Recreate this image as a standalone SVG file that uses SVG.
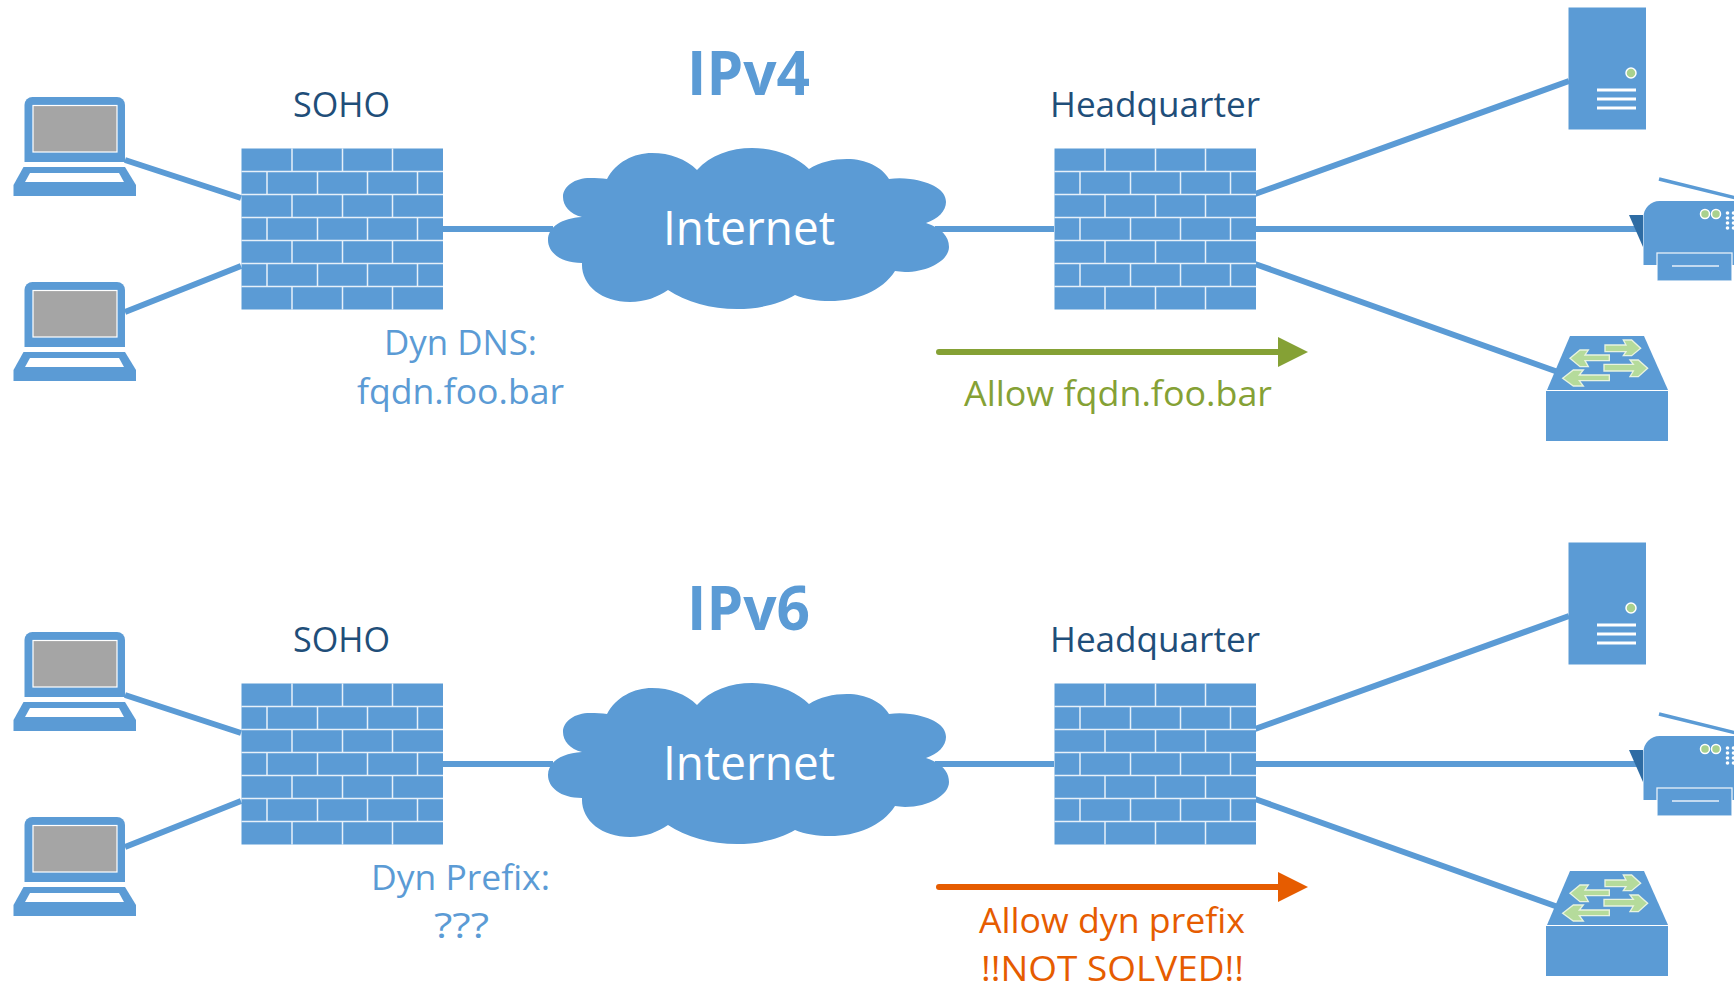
<svg xmlns="http://www.w3.org/2000/svg" width="1734" height="983" viewBox="0 0 1734 983">
<style>
text{font-family:"Open Sans","Noto Sans","Liberation Sans",sans-serif;font-size:35px}
.dark{fill:#1F4E79}.blue{fill:#5B9BD5}.olive{fill:#85A135}.orange{fill:#E65C00}
.title{font-size:61px;font-weight:700;fill:#5B9BD5}
.inet{font-size:48px;fill:#fff}
.fill{fill:#5B9BD5}
.wl{stroke:#fff;stroke-opacity:.85;fill:none;stroke-width:1.5}
.edge{stroke:#5B9BD5;stroke-width:6;fill:none}
.flow-g{stroke:#85A135;stroke-width:6;stroke-linecap:round;fill:none}
.flow-o{stroke:#E65C00;stroke-width:6;stroke-linecap:round;fill:none}
.sw{fill:#B5DB9B;stroke:#E8F3E0;stroke-width:4}
.led{fill:#A9D18E;stroke:#fff;stroke-width:1.500}
</style>
<defs>
<marker id="ah-g" markerUnits="userSpaceOnUse" markerWidth="31" markerHeight="31" refX="0" refY="15" orient="auto"><path d="M0 0L30 15L0 30Z" fill="#85A135"/></marker>
<marker id="ah-o" markerUnits="userSpaceOnUse" markerWidth="31" markerHeight="31" refX="0" refY="15" orient="auto"><path d="M0 0L30 15L0 30Z" fill="#E65C00"/></marker>
<g id="laptop">
<path class="fill" d="M24.500 162V105a8 8 0 0 1 8-8H117a8 8 0 0 1 8 8V162Z"/>
<rect x="33" y="105.500" width="84" height="46.500" fill="#A5A5A5" stroke="#fff" stroke-width="1.200"/>
<path class="fill" d="M23.500 167H125L136 185V196H13.500V185Z"/>
<path fill="#fff" d="M30 173H119L124 182H25Z"/>
</g>
<g id="firewall">
<rect class="fill" x="0" y="0" width="201.500" height="161"/>
<path class="wl" d="M0 23H201.500M0 46H201.500M0 69H201.500M0 92H201.500M0 115H201.500M0 138H201.500M50.500 0V23M101 0V23M151 0V23M25.500 23V46M76 23V46M126 23V46M176 23V46M50.500 46V69M101 46V69M151 46V69M25.500 69V92M76 69V92M126 69V92M176 69V92M50.500 92V115M101 92V115M151 92V115M25.500 115V138M76 115V138M126 115V138M176 115V138M50.500 138V161M101 138V161M151 138V161"/>
</g>
<g id="cloud-shape">
<path class="fill" d="M607 179C616 162 634 153 652 153C670 153 686 159 697 170C710 155 731 148 752 148C775 148 796 156 809 169C820 162 833 159 847 159C866 159 882 167 889 179C896 178 903 178 910 179C932 182 946 190 946 202C946 211 938 219 926 223C941 228 949 236 949 247C949 260 929 272 905 272C901 272 898 271 895 271C882 291 857 301 830 301C817 301 805 299 795 295C780 304 759 309 737 309C711 309 686 302 668 290C658 297 645 302 630 302C601 302 581 285 582 263C560 263 548 252 548 240C548 227 562 218 582 217C570 214 563 206 563 197C563 186 575 178 590 178C596 178 602 178 607 179Z"/>
</g>
<g id="server">
<rect class="fill" x="1568.500" y="7.500" width="77.500" height="122"/>
<circle class="led" cx="1631" cy="73" r="5"/>
<path stroke="#fff" stroke-width="3" fill="none" d="M1597 90H1636M1597 99H1636M1597 108H1636"/>
</g>
<g id="printer">
<path d="M1629 215H1643V247Z" fill="#2E6CA4"/>
<path stroke="#5B9BD5" stroke-width="3.500" fill="none" d="M1659 179L1736 198"/>
<path class="fill" d="M1643.500 265V217a16 16 0 0 1 16-16H1740V265Z"/>
<circle class="led" cx="1705" cy="214" r="4.500"/>
<circle class="led" cx="1716" cy="214" r="4.500"/>
<g fill="#fff"><circle cx="1727.500" cy="213" r="1.800"/><circle cx="1733.500" cy="213" r="1.800"/><circle cx="1727.500" cy="218" r="1.800"/><circle cx="1733.500" cy="218" r="1.800"/><circle cx="1727.500" cy="223" r="1.800"/><circle cx="1733.500" cy="223" r="1.800"/><circle cx="1727.500" cy="228" r="1.800"/><circle cx="1733.500" cy="228" r="1.800"/></g>
<rect class="fill" x="1657" y="253" width="75" height="28" stroke="#fff" stroke-opacity=".85" stroke-width="1.300"/>
<path stroke="#fff" stroke-opacity=".85" stroke-width="1.300" d="M1672 266H1719"/>
</g>
<g id="switch">
<path class="fill" d="M1570 336H1644L1668 390H1547Z"/>
<rect class="fill" x="1546" y="391" width="122" height="50"/>
<g transform="translate(1520 320) scale(.3333)">
<path class="sw" d="M255 75H318L310 60H335L362 85L335 107H310L318 95H255Z"/>
<path class="sw" d="M150 115L180 90H205L195 105H268V122H195L205 140H180Z"/>
<path class="sw" d="M252 133H340L330 120H355L383 145L355 170H330L340 153H252Z"/>
<path class="sw" d="M128 175L160 150H190L178 165H268V182H178L190 198H160Z"/>
</g>
</g>
</defs>
<g id="connectors">
<path class="edge" d="M125 160L241 198M125 312L241 266M443 229H553M935 229H1054M1255 194L1569 81M1255 229H1637M1255 264L1558 372"/>
<path class="edge" d="M125 695L241 733M125 847L241 801M443 764H553M935 764H1054M1255 729L1569 616M1255 764H1637M1255 799L1558 907"/>
<path class="flow-g" d="M939 352H1278" marker-end="url(#ah-g)"/>
<path class="flow-o" d="M939 887H1278" marker-end="url(#ah-o)"/>
</g>
<g id="ipv4-laptop-1"><use href="#laptop"/></g>
<g id="ipv4-laptop-2"><use href="#laptop" y="185"/></g>
<g id="ipv4-soho"><use href="#firewall" x="241.500" y="148.500"/><text class="dark" x="293" y="117" textLength="97" lengthAdjust="spacingAndGlyphs">SOHO</text></g>
<g id="ipv4-cloud"><use href="#cloud-shape"/><text class="inet" x="663" y="244.500" textLength="172" lengthAdjust="spacingAndGlyphs">Internet</text></g>
<g id="ipv4-hq"><use href="#firewall" x="1054.500" y="148.500"/><text class="dark" x="1050" y="117" textLength="210" lengthAdjust="spacingAndGlyphs">Headquarter</text></g>
<g id="ipv4-server"><use href="#server"/></g>
<g id="ipv4-printer"><use href="#printer"/></g>
<g id="ipv4-switch"><use href="#switch"/></g>
<g id="ipv6-laptop-1"><use href="#laptop" y="535"/></g>
<g id="ipv6-laptop-2"><use href="#laptop" y="720"/></g>
<g id="ipv6-soho"><use href="#firewall" x="241.500" y="683.500"/><text class="dark" x="293" y="652" textLength="97" lengthAdjust="spacingAndGlyphs">SOHO</text></g>
<g id="ipv6-cloud"><use href="#cloud-shape" y="535"/><text class="inet" x="663" y="779.500" textLength="172" lengthAdjust="spacingAndGlyphs">Internet</text></g>
<g id="ipv6-hq"><use href="#firewall" x="1054.500" y="683.500"/><text class="dark" x="1050" y="652" textLength="210" lengthAdjust="spacingAndGlyphs">Headquarter</text></g>
<g id="ipv6-server"><use href="#server" y="535"/></g>
<g id="ipv6-printer"><use href="#printer" y="535"/></g>
<g id="ipv6-switch"><use href="#switch" y="535"/></g>
<g id="labels">
<text class="title" x="687" y="94.500" textLength="123" lengthAdjust="spacingAndGlyphs">IPv4</text>
<text class="title" x="687" y="629.500" textLength="123" lengthAdjust="spacingAndGlyphs">IPv6</text>
<text class="blue" x="384" y="355" textLength="153" lengthAdjust="spacingAndGlyphs">Dyn DNS:</text>
<text class="blue" x="357" y="404" textLength="207" lengthAdjust="spacingAndGlyphs">fqdn.foo.bar</text>
<text class="blue" x="371" y="890" textLength="179" lengthAdjust="spacingAndGlyphs">Dyn Prefix:</text>
<text class="blue" x="434" y="938" textLength="55" lengthAdjust="spacingAndGlyphs">???</text>
<text class="olive" x="964" y="405.500" textLength="308" lengthAdjust="spacingAndGlyphs">Allow fqdn.foo.bar</text>
<text class="orange" x="979" y="932.500" textLength="266" lengthAdjust="spacingAndGlyphs">Allow dyn prefix</text>
<text class="orange" x="981" y="981" textLength="263" lengthAdjust="spacingAndGlyphs">!!NOT SOLVED!!</text>
</g>
</svg>
